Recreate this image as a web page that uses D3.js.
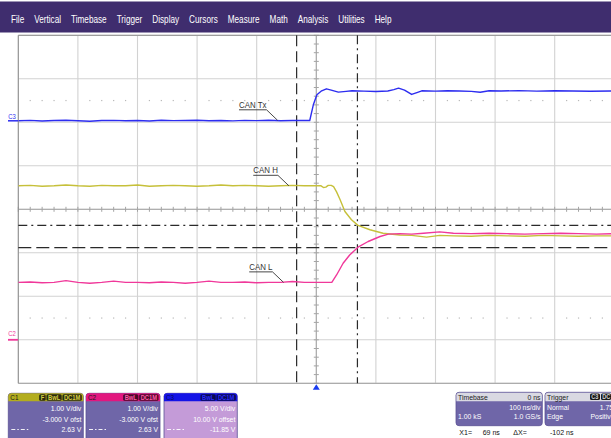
<!DOCTYPE html>
<html><head><meta charset="utf-8">
<script src="https://cdn.jsdelivr.net/npm/d3@7"></script>
<style>html,body{margin:0;padding:0;background:#fff;overflow:hidden}svg{display:block}text{font-family:"Liberation Sans",Arial,sans-serif}</style>
</head><body><svg id="c" width="611" height="438"></svg>
<script>
// ---------- data ----------
const menuItems = ["File","Vertical","Timebase","Trigger","Display","Cursors","Measure","Math","Analysis","Utilities","Help"];
const channelNames = ["C1","C2","C3"];
const voltsPerDiv = [1, 1, 5];
const offsetVolts = [-3, -3, 10];
const traceLabels = ["CAN H","CAN L","CAN Tx"];
const timebaseNsPerDiv = 100;
const timeDomain = [-500, 500];
const cursorTimes = [69, -33];      // ns
const cursorVolts = [2.63, 2.12];   // in C1/C2 units
const triggerLevel = 1.75;

// CAN Tx (C3)
const canTxTime = [-500,-480,-460,-440,-420,-400,-380,-360,-340,-320,-300,-280,-260,-240,-220,-200,-180,-160,-140,-120,-100,-80,-60,-40,-20,
  -11,-5,1,9,17,25,37,50,60,80,100,120,130,138,148,160,170,177,200,220,240,260,275,290,310,340,370,400,430,460,500];
const canTxVolts = [0.18,0.22,0.15,0.20,0.24,0.18,0.12,0.20,0.22,0.17,0.21,0.15,0.23,0.19,0.20,0.24,0.17,0.21,0.16,0.22,0.19,0.23,0.18,0.21,0.20,
  0.21,2.01,3.16,3.62,3.85,3.70,3.47,3.55,3.62,3.58,3.54,3.60,3.75,3.93,3.70,3.20,3.45,3.62,3.58,3.63,3.60,3.55,3.45,3.62,3.60,3.64,3.58,3.62,3.60,3.57,3.61];

// CAN H (C1)
const canHTime = [-500,-480,-460,-440,-420,-400,-380,-360,-340,-320,-300,-280,-260,-240,-220,-200,-180,-160,-140,-120,-100,-80,-60,-40,-20,0,
  8,12,16,20,25,29,34,40,48,59,70,90,112,140,160,185,207,230,260,290,320,350,380,410,440,470,500];
const canHVolts = [3.54,3.55,3.53,3.54,3.56,3.54,3.53,3.55,3.54,3.54,3.56,3.53,3.54,3.55,3.54,3.53,3.54,3.56,3.54,3.55,3.54,3.53,3.54,3.55,3.54,3.54,
  3.54,3.50,3.51,3.55,3.55,3.52,3.40,3.22,2.95,2.76,2.63,2.53,2.45,2.41,2.40,2.36,2.40,2.39,2.38,2.40,2.39,2.38,2.40,2.39,2.38,2.39,2.39];

// CAN L (C2)
const canLTime = [-500,-480,-460,-440,-420,-400,-380,-360,-340,-320,-300,-280,-260,-240,-220,-200,-180,-160,-140,-120,-100,-80,-60,-40,-20,0,20,
  26,34,45,56,70,87,107,121,140,160,180,207,230,260,290,320,350,380,410,440,470,500];
const canLVolts = [1.32,1.33,1.31,1.32,1.36,1.32,1.30,1.32,1.35,1.32,1.32,1.31,1.33,1.32,1.30,1.32,1.35,1.32,1.32,1.33,1.31,1.32,1.32,1.34,1.32,1.32,1.32,
  1.32,1.49,1.76,1.95,2.13,2.26,2.375,2.43,2.44,2.43,2.45,2.48,2.45,2.44,2.45,2.44,2.43,2.44,2.45,2.44,2.43,2.44];

// ---------- layout ----------
const svg = d3.select("#c");
const L = 18.3, T = 35.3, DW = 59.6, DH = 43.5;
const x = d3.scaleLinear().domain(timeDomain).range([L, L + 10*DW]);
const yDiv = d3.scaleLinear().domain([-4, 4]).range([T + 8*DH, T]);
const yCh = (ch, v) => yDiv((v + offsetVolts[ch]) / voltsPerDiv[ch]);
const right = L + 10*DW, bottom = T + 8*DH;

function txt(g, xp, yp, s, o) {
  o = o || {};
  const t = g.append("text")
    .attr("transform", `translate(${xp},${yp}) scale(${o.sx || 0.85},1)`)
    .attr("font-size", o.size || 8)
    .attr("fill", o.fill || "#fff")
    .attr("text-anchor", o.anchor || "start")
    .text(s);
  if (o.weight) t.attr("font-weight", o.weight);
  return t;
}

// ---------- menu bar ----------
svg.append("rect").attr("x",0).attr("y",1.5).attr("width",611).attr("height",31).attr("fill","#3f2d6e");
let mx = 11;
menuItems.forEach(m => {
  const t = txt(svg, mx, 22.5, m, {size:10.5, sx:0.78, fill:"#fff"});
  mx += t.node().getComputedTextLength()*0.78 + 10;
});

// ---------- grid ----------
const grid = svg.append("g");
d3.range(11).forEach(i => grid.append("line").attr("x1",x(timeDomain[0]+i*timebaseNsPerDiv)).attr("x2",x(timeDomain[0]+i*timebaseNsPerDiv))
  .attr("y1",T).attr("y2",bottom).attr("stroke","#d2d2d2").attr("stroke-width",1.1));
d3.range(9).forEach(j => grid.append("line").attr("y1",yDiv(-4+j)).attr("y2",yDiv(-4+j))
  .attr("x1",L).attr("x2",right).attr("stroke","#d2d2d2").attr("stroke-width",1.1));
// dotted rows at +/- 2.5 div
[2.5,-2.5].forEach(d => {
  d3.range(timeDomain[0], timeDomain[1], 20).filter(t => t % 100 !== 0).forEach(t => {
    grid.append("rect").attr("x",x(t)-0.6).attr("y",yDiv(d)-0.6).attr("width",1.2).attr("height",1.2).attr("fill","#b8b8b8");
  });
});
// center axes with ticks
grid.append("line").attr("x1",L).attr("x2",right).attr("y1",yDiv(0)).attr("y2",yDiv(0)).attr("stroke","#a4a4a4");
grid.append("line").attr("x1",x(0)).attr("x2",x(0)).attr("y1",T).attr("y2",bottom).attr("stroke","#a4a4a4");
d3.range(timeDomain[0], timeDomain[1]+1, 20).forEach(t => grid.append("line").attr("x1",x(t)).attr("x2",x(t))
  .attr("y1",yDiv(0)-2.5).attr("y2",yDiv(0)+2.5).attr("stroke","#a4a4a4"));
d3.range(-4, 4.01, 0.2).forEach(d => grid.append("line").attr("y1",yDiv(d)).attr("y2",yDiv(d))
  .attr("x1",x(0)-2.5).attr("x2",x(0)+2.5).attr("stroke","#a4a4a4"));
// frame
grid.append("line").attr("x1",L).attr("x2",right).attr("y1",T).attr("y2",T).attr("stroke","#8c8c8c");
grid.append("line").attr("x1",L).attr("x2",right).attr("y1",bottom).attr("y2",bottom).attr("stroke","#a0a0a0");
grid.append("line").attr("x1",L).attr("x2",L).attr("y1",T).attr("y2",bottom).attr("stroke","#8c8c8c");

// ---------- cursors ----------
const cur = svg.append("g").attr("stroke","#2a2a2a").attr("stroke-width",1.2).attr("fill","none");
cur.append("line").attr("x1",x(cursorTimes[1])).attr("x2",x(cursorTimes[1])).attr("y1",T).attr("y2",bottom).attr("stroke-dasharray","11,5");
cur.append("line").attr("x1",x(cursorTimes[0])).attr("x2",x(cursorTimes[0])).attr("y1",T).attr("y2",bottom).attr("stroke-dasharray","9,4,2,4");
cur.append("line").attr("x1",L).attr("x2",right).attr("y1",yCh(0,cursorVolts[0])).attr("y2",yCh(0,cursorVolts[0])).attr("stroke-dasharray","9,4,2,4");
cur.append("line").attr("x1",L).attr("x2",right).attr("y1",yCh(0,cursorVolts[1])).attr("y2",yCh(0,cursorVolts[1])).attr("stroke-dasharray","13,5");

// ---------- traces ----------
svg.append("clipPath").attr("id","clip").append("rect").attr("x",L).attr("y",T).attr("width",right-L).attr("height",bottom-T);
const traces = svg.append("g").attr("clip-path","url(#clip)");
function drawTrace(ch, ts, vs, color) {
  const pts = ts.map((t,i) => [x(t), yCh(ch, vs[i])]);
  traces.append("path").attr("d", d3.line()(pts)).attr("fill","none").attr("stroke",color).attr("stroke-width",1.4).attr("stroke-linejoin","round");
}
drawTrace(0, canHTime, canHVolts, "#c6c03a");
drawTrace(1, canLTime, canLVolts, "#f0389a");
drawTrace(2, canTxTime, canTxVolts, "#2d2df0");

// ---------- trace labels ----------
function label(ch, ts, vs, name, tEnd) {
  const i = d3.bisectLeft(ts, tEnd);
  const ex = x(tEnd), ey = yCh(ch, vs[Math.max(0,i-1)]);
  const sx = ex - 11, sy = ey - 10.5;
  const t = txt(svg, sx, sy - 2.2, name, {size:9, sx:0.88, fill:"#333", anchor:"end"});
  const w = t.node().getComputedTextLength()*0.88;
  svg.append("line").attr("x1",sx-w).attr("x2",sx).attr("y1",sy).attr("y2",sy).attr("stroke","#333").attr("stroke-width",0.9);
  svg.append("line").attr("x1",sx).attr("x2",ex).attr("y1",sy).attr("y2",ey).attr("stroke","#333").attr("stroke-width",0.9);
}
label(2, canTxTime, canTxVolts, traceLabels[2], -65);
label(0, canHTime, canHVolts, traceLabels[0], -46);
label(1, canLTime, canLVolts, traceLabels[1], -55);

// ---------- channel ground markers ----------
const z3 = yCh(2, 0), z2 = yCh(1, 0);
txt(svg, 8.3, z3 - 3, channelNames[2], {size:7, sx:0.85, fill:"#2d2df0"});
svg.append("line").attr("x1",8).attr("x2",18).attr("y1",z3-1.5).attr("y2",z3-1.5).attr("stroke","#2d2df0").attr("stroke-width",1.5);
txt(svg, 8.3, z2 - 3.5, channelNames[1], {size:7, sx:0.85, fill:"#f0389a"});
svg.append("line").attr("x1",8).attr("x2",18).attr("y1",z2).attr("y2",z2).attr("stroke","#f0389a").attr("stroke-width",1.8);

// trigger marker
const tx = x(0);
svg.append("path").attr("d", `M${tx-3.5},${bottom+6.5} L${tx+3.5},${bottom+6.5} L${tx},${bottom+1} Z`).attr("fill","#1a3cf0");

// ---------- channel panels ----------
const hy = s => s.replace("\u2212", "-");
const fmt2 = v => hy(d3.format(".2f")(v)), fmt3 = v => hy(d3.format(".3f")(v));
function toCh(ch, v) { // convert C1 cursor volts to channel volts via divisions
  const d = (v + offsetVolts[0]) / voltsPerDiv[0];
  return d * voltsPerDiv[ch] - offsetVolts[ch];
}
const panelX = [8.3, 86, 164], panelW = [75, 74, 73.3];
const headCol = ["#b3ad1e", "#e2177f", "#1414e6"];
const bodyCol = ["#6f66a8", "#6f66a8", "#c49bd8"];
const badgeFill = ["#2a2a10", "#4a0828", "#0a0a50"];
const badgeText = ["#d8d040", "#ff5aa8", "#2a2aff"];
const badges = [["F","BwL","DC1M"],["BwL","DC1M"],["BwL","DC1M"]];
[0,1,2].forEach(ch => {
  const g = svg.append("g");
  const x0 = panelX[ch], w = panelW[ch], y0 = 393.3;
  g.append("rect").attr("x",x0).attr("y",y0).attr("width",w).attr("height",60).attr("rx",3).attr("fill",bodyCol[ch]).attr("stroke","#5a5094").attr("stroke-width",0.8);
  g.append("path").attr("d",`M${x0},${y0+8} V${y0+3} Q${x0},${y0} ${x0+3},${y0} H${x0+w-3} Q${x0+w},${y0} ${x0+w},${y0+3} V${y0+8} Z`).attr("fill",headCol[ch]);
  txt(g, x0+2, y0+6.6, channelNames[ch], {size:7.5, sx:0.85, fill: ch===2 ? "#0a0a60" : "#1a1a1a"});
  let bx = x0 + w - 1.5;
  badges[ch].slice().reverse().forEach(b => {
    const t = txt(g, 0, 0, b, {size:6.8, sx:0.85, fill:badgeText[ch], weight:"bold"});
    const bw = t.node().getComputedTextLength()*0.85 + 3;
    bx -= bw;
    g.insert("rect", () => t.node()).attr("x",bx).attr("y",y0+1).attr("width",bw).attr("height",6.4).attr("rx",1.5).attr("fill",badgeFill[ch]);
    t.attr("transform",`translate(${bx+1.5},${y0+6.5}) scale(0.85,1)`);
    bx -= 0.8;
  });
  const vd = fmt2(voltsPerDiv[ch]);
  const offTxt = ch===2 ? `${fmt2(offsetVolts[ch])} V offset` : `${fmt3(offsetVolts[ch])} V ofst`;
  const r = x0 + w - 2;
  txt(g, r, 411, `${vd} V/div`, {size:7.8, sx:0.88, anchor:"end"});
  txt(g, r, 421.7, offTxt, {size:7.8, sx:0.88, anchor:"end"});
  txt(g, r, 432.3, `${fmt2(toCh(ch, cursorVolts[0]))} V`, {size:7.8, sx:0.88, anchor:"end"});
  txt(g, r, 443, `${fmt2(toCh(ch, cursorVolts[1]))} V`, {size:7.8, sx:0.88, anchor:"end"});
  g.append("line").attr("x1",x0+3).attr("x2",x0+22).attr("y1",429.5).attr("y2",429.5).attr("stroke","#fff").attr("stroke-width",0.9).attr("stroke-dasharray","4,2,1.5,2");
});

// ---------- timebase / trigger panels ----------
function infoPanel(x0, y0, w, h) {
  const g = svg.append("g");
  g.append("rect").attr("x",x0).attr("y",y0).attr("width",w).attr("height",h).attr("rx",3).attr("fill","#6f66a8").attr("stroke","#5a5094").attr("stroke-width",0.8);
  g.append("path").attr("d",`M${x0+0.4},${y0+9} V${y0+3} Q${x0+0.4},${y0+0.4} ${x0+3},${y0+0.4} H${x0+w-3} Q${x0+w-0.4},${y0+0.4} ${x0+w-0.4},${y0+3} V${y0+9} Z`).attr("fill","#d9d9e2");
  return g;
}
const tb = infoPanel(456, 392.3, 86.3, 33.4);
txt(tb, 458, 399.8, "Timebase", {size:7.8, sx:0.88, fill:"#222"});
txt(tb, 540.5, 399.8, "0 ns", {size:7.8, sx:0.88, fill:"#222", anchor:"end"});
txt(tb, 540.5, 410.3, `${timebaseNsPerDiv} ns/div`, {size:7.8, sx:0.88, anchor:"end"});
txt(tb, 458, 418.8, "1.00 kS", {size:7.8, sx:0.88});
txt(tb, 540.5, 418.8, "1.0 GS/s", {size:7.8, sx:0.88, anchor:"end"});

const tr = infoPanel(545, 392.3, 90, 33.4);
txt(tr, 547, 399.8, "Trigger", {size:7.8, sx:0.88, fill:"#222"});
[["C3",590],["DC",601]].forEach(([b,bx]) => {
  tr.append("rect").attr("x",bx).attr("y",393.6).attr("width",10).attr("height",6.4).attr("rx",1.5).attr("fill","#1a1a1a");
  txt(tr, bx+1.2, 399, b, {size:6.6, sx:0.85, fill:"#d0d0d0", weight:"bold"});
});
txt(tr, 547, 410.3, "Normal", {size:7.8, sx:0.88});
txt(tr, 619.5, 410.3, `${fmt2(triggerLevel)} V`, {size:7.8, sx:0.88, anchor:"end"});
txt(tr, 547, 418.8, "Edge", {size:7.8, sx:0.88});
txt(tr, 614.5, 418.8, "Positive", {size:7.8, sx:0.88, anchor:"end"});

// readout line
txt(svg, 459.3, 434.5, "X1=", {size:8, sx:0.88, fill:"#111"});
txt(svg, 482.7, 434.5, `${cursorTimes[0]} ns`, {size:8, sx:0.88, fill:"#111"});
txt(svg, 513.3, 434.5, "ΔX=", {size:8, sx:0.88, fill:"#111"});
txt(svg, 550, 434.5, `${cursorTimes[1]-cursorTimes[0]} ns`, {size:8, sx:0.88, fill:"#111"});
</script></body></html>
